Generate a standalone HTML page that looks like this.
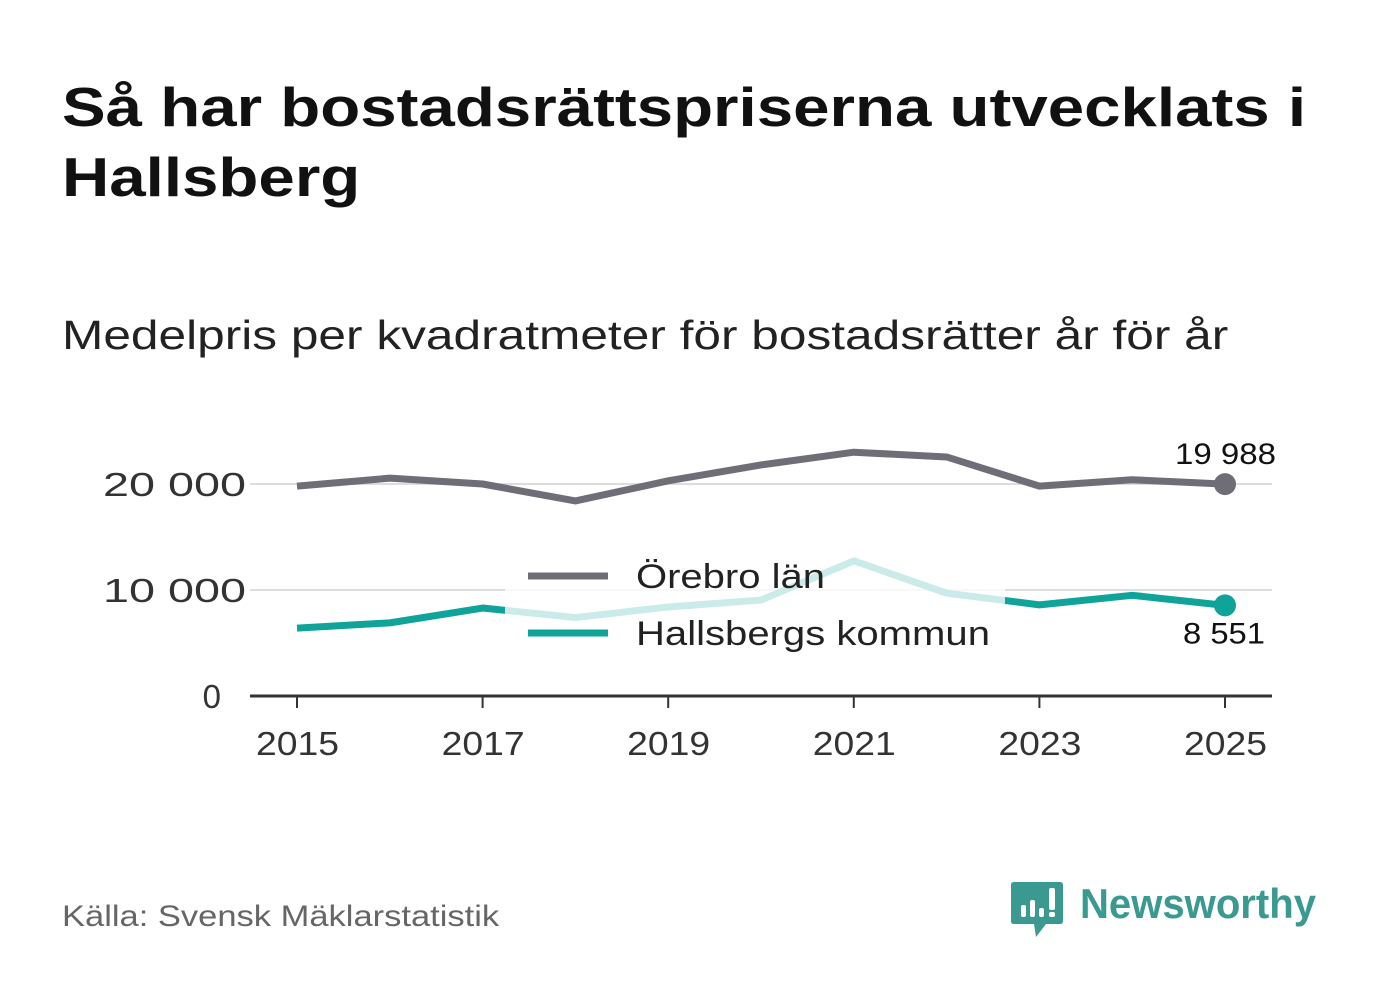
<!DOCTYPE html>
<html><head><meta charset="utf-8"><style>
body{margin:0;width:1382px;height:999px;background:#fff;font-family:"Liberation Sans","DejaVu Sans",sans-serif;overflow:hidden;position:relative}
.t{position:absolute;left:62px;top:72px;font-size:55px;font-weight:bold;line-height:70px;color:#111;margin:0;transform:scaleX(1.19);transform-origin:0 0;white-space:nowrap}
.s{position:absolute;left:62px;top:312px;font-size:41px;color:#222;transform:scaleX(1.21);transform-origin:0 0;white-space:nowrap}
.src{position:absolute;left:62px;top:900px;font-size:30px;color:#666;transform:scaleX(1.15);transform-origin:0 0;white-space:nowrap}
</style></head><body>
<h1 class="t">Så har bostadsrättspriserna utvecklats i<br>Hallsberg</h1>
<div class="s">Medelpris per kvadratmeter för bostadsrätter år för år</div>
<div class="src">Källa: Svensk Mäklarstatistik</div>
<svg width="1382" height="999" style="position:absolute;left:0;top:0">
<g id="grid"></g><g id="lines"></g>
<rect x="505" y="543" width="500" height="118" fill="#fff" opacity="0.78"/>
<g id="legend" font-size="34" fill="#222">
<line x1="528" y1="576" x2="608" y2="576" stroke="#6f6e77" stroke-width="7"/>
<text x="636" y="588" textLength="189" lengthAdjust="spacingAndGlyphs">Örebro län</text>
<line x1="528" y1="633" x2="608" y2="633" stroke="#0fa39a" stroke-width="7"/>
<text x="636" y="645" textLength="354" lengthAdjust="spacingAndGlyphs">Hallsbergs kommun</text>
</g>
<g id="labels"></g>
<g>
<path d="M1014 882h46q3 0 3 3v36q0 3-3 3h-14l-10 13-2-13h-20q-3 0-3-3v-36q0-3 3-3z" fill="#3a9990"/>
<rect x="1021" y="905" width="5" height="12" rx="2" fill="#fff"/><rect x="1030" y="900" width="5" height="17" rx="2" fill="#fff"/><rect x="1039" y="908" width="5" height="9" rx="2" fill="#fff"/><rect x="1049" y="888" width="6" height="22" rx="2" fill="#fff"/><rect x="1049" y="912" width="6" height="5" rx="2" fill="#fff"/>
<text x="1080" y="918" font-size="42" font-weight="bold" fill="#3a9990" textLength="236" lengthAdjust="spacingAndGlyphs">Newsworthy</text>
</g>
</svg>
<script>
const years=[2015,2016,2017,2018,2019,2020,2021,2022,2023,2024,2025];
const orebro=[19800,20550,20000,18400,20300,21800,23000,22550,19800,20400,19988];
const hallsberg=[6400,6900,8300,7400,8400,9050,12750,9700,8600,9500,8551];
const yTicks=[0,10000,20000];
const yTickLabels=["0","10 000","20 000"];
const xTicks=[2015,2017,2019,2021,2023,2025];
const X=v=>297+(v-2015)*92.8, Y=v=>696-v*0.0106;
const NS="http://www.w3.org/2000/svg";
function mk(t,a,p){const e=document.createElementNS(NS,t);for(const k in a)e.setAttribute(k,a[k]);p.appendChild(e);return e;}
const g=document.getElementById('grid'),L=document.getElementById('lines'),lb=document.getElementById('labels');
yTicks.forEach((v,i)=>{
 if(v>0){const l=mk('line',{x1:250,x2:1272,y1:Y(v),y2:Y(v),stroke:'#ddd','stroke-width':2},g);
 
 }
 const lab=yTickLabels[i];
 const attrs={x:v>0?246:221,y:Y(v)+12,'text-anchor':'end','font-size':33,fill:'#333'};
 if(lab.length>1){attrs.textLength=143;attrs.lengthAdjust='spacingAndGlyphs';}
 const t=mk('text',attrs,g);t.textContent=lab;
 
 
});
const ax=mk('line',{x1:250,x2:1272,y1:696,y2:696,stroke:'#333','stroke-width':3},g);


xTicks.forEach(v=>{
 const tk=mk('line',{x1:X(v),x2:X(v),y1:696,y2:708,stroke:'#333','stroke-width':2},g);
 
 
 const t=mk('text',{x:X(v)-41,y:755,'font-size':33,fill:'#333',textLength:83,lengthAdjust:'spacingAndGlyphs'},g);t.textContent=v;
 
 
});
function line(data,col,name){
 const p=mk('polyline',{points:data.map((v,i)=>X(years[i])+','+Y(v)).join(' '),fill:'none',stroke:col,'stroke-width':7,'stroke-linejoin':'round'},L);
 
 
 const c=mk('circle',{cx:X(years[years.length-1]),cy:Y(data[data.length-1]),r:11,fill:col},L);
 
 
}
line(orebro,'#6f6e77','orebro');line(hallsberg,'#0fa39a','hallsberg');
const fmt=v=>String(v).replace(/\B(?=(\d{3})+(?!\d))/g,' ');
const a=mk('text',{x:1175,y:Y(orebro[10])-20,'font-size':30,fill:'#111',textLength:101,lengthAdjust:'spacingAndGlyphs'},lb);a.textContent=fmt(orebro[10]);


const b=mk('text',{x:1183,y:Y(hallsberg[10])+38,'font-size':30,fill:'#111',textLength:82,lengthAdjust:'spacingAndGlyphs'},lb);b.textContent=fmt(hallsberg[10]);


</script>
</body></html>
